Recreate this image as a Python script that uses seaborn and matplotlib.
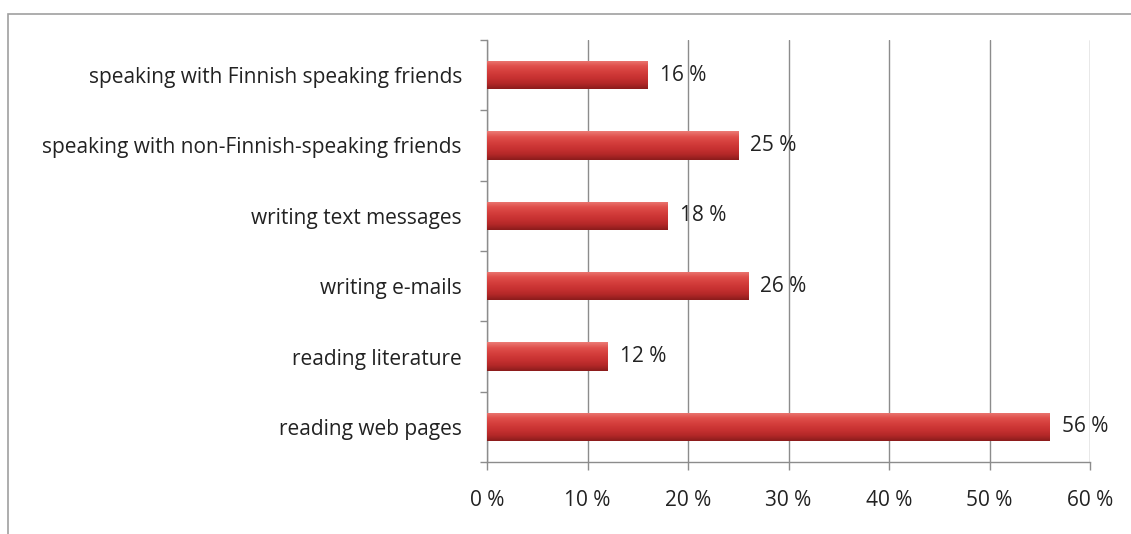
import matplotlib
matplotlib.use("Agg")
import matplotlib.pyplot as plt
import seaborn as sns
import numpy as np
import pandas as pd
from matplotlib.colors import LinearSegmentedColormap
from matplotlib.patches import Rectangle

categories = [
    "speaking with Finnish speaking friends",
    "speaking with non-Finnish-speaking friends",
    "writing text messages",
    "writing e-mails",
    "reading literature",
    "reading web pages",
]
values = [16, 25, 18, 26, 12, 56]
x_ticks = [0, 10, 20, 30, 40, 50, 60]
x_tick_labels = ["0 %", "10 %", "20 %", "30 %", "40 %", "50 %", "60 %"]

df = pd.DataFrame({"activity": categories, "share": values})

sns.set_theme(style="white")
plt.rcParams["font.family"] = ["Open Sans", "DejaVu Sans"]

fig = plt.figure(figsize=(11.31, 5.34), dpi=100)
ax = fig.add_axes([487 / 1131, 1 - 462 / 534, (1090 - 487) / 1131, (462 - 40) / 534])

sns.barplot(data=df, x="share", y="activity", orient="h", ax=ax,
            color="#c8302e", width=0.4, edgecolor="none", zorder=3)

# gradient fill for 3D-like bars (light top, dark bottom)
cmap = LinearSegmentedColormap.from_list(
    "bar", ["#ec7c76", "#e0504c", "#d43e3c", "#c83232", "#b42828", "#8a1c1c"])
grad = np.linspace(0, 1, 256).reshape(-1, 1)
for p in ax.patches:
    x0, y0 = p.get_x(), p.get_y()
    w, h = p.get_width(), p.get_height()
    p.set_facecolor("none")
    im = ax.imshow(grad, cmap=cmap, aspect="auto",
                   extent=[x0, x0 + w, y0, y0 + h], zorder=3,
                   origin="lower")
    im.set_clip_path(p)

ax.set_xlim(0, 60)
ax.set_ylim(len(categories) - 0.5, -0.5)
ax.set_xticks(x_ticks)
ax.set_xticklabels(x_tick_labels)
ax.set_xlabel("")
ax.set_ylabel("")

# gridlines
ax.grid(axis="x", color="#8c8c8c", linewidth=1.0, zorder=0)
ax.grid(axis="y", visible=False)
ax.set_axisbelow(True)

for s in ["top", "right"]:
    ax.spines[s].set_visible(False)
for s in ["left", "bottom"]:
    ax.spines[s].set_visible(True)
    ax.spines[s].set_color("#8c8c8c")
    ax.spines[s].set_linewidth(1.0)

fs = 15

# category ticks at boundaries
ax.set_yticks(range(len(categories)))
ax.set_yticklabels(categories)
ax.set_yticks(np.arange(-0.5, len(categories), 1.0), minor=True)
ax.tick_params(axis="y", which="major", length=0, pad=18,
               labelsize=fs, labelcolor="#222222")
ax.tick_params(axis="y", which="minor", left=True, length=5,
               color="#8c8c8c", width=1.0)
ax.tick_params(axis="x", which="major", bottom=True, length=6,
               color="#8c8c8c", width=1.0, pad=14,
               labelsize=fs, labelcolor="#222222")

# data labels
for i, v in enumerate(values):
    ax.text(v + 1.2, i, f"{v} %", va="center", ha="left",
            fontsize=fs, color="#222222", zorder=5)

# chart area border
fig.patches.append(Rectangle((8 / 1131, -0.05), 1.1, 1 - 14 / 534 + 0.05,
                             transform=fig.transFigure, fill=False,
                             edgecolor="#a0a0a0", linewidth=1.2))

fig.savefig("out.png", dpi=100)
